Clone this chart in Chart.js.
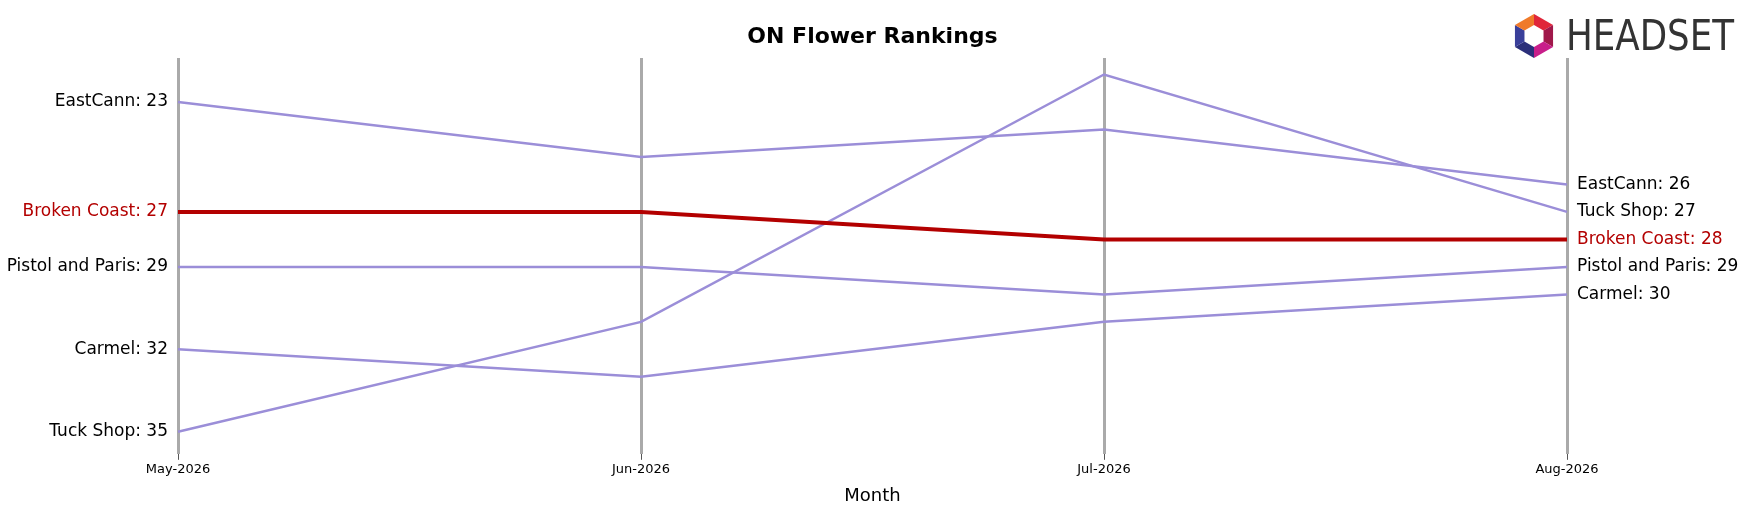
<!DOCTYPE html>
<html><head><meta charset="utf-8">
<script src="https://cdn.jsdelivr.net/npm/chart.js@4"></script>
<style>html,body{margin:0;padding:0;background:#fff}#wrap{width:1748px;height:507px}</style>
</head><body><div id="wrap"><canvas id="c"></canvas></div>
<script>
const months = ["May-2026","Jun-2026","Jul-2026","Aug-2026"];
const brands = ["EastCann","Broken Coast","Pistol and Paris","Carmel","Tuck Shop"];
const eastCann = [23,25,24,26];
const brokenCoast = [27,27,28,28];
const pistolParis = [29,29,30,29];
const carmel = [32,33,31,30];
const tuckShop = [35,31,22,27];
const seriesValues = [eastCann,brokenCoast,pistolParis,carmel,tuckShop];
const highlight = "Broken Coast";
const PURPLE = "#9b8ed8", RED = "#b30000";

const labelsPlugin = {
  id:'sideLabels',
  afterDatasetsDraw(chart){
    const ctx = chart.ctx, x = chart.scales.x, y = chart.scales.y;
    ctx.save();
    ctx.font = '17px "DejaVu Sans"';
    ctx.textBaseline = 'middle';
    chart.data.datasets.forEach(ds=>{
      const col = ds.label===highlight?RED:'#000';
      ctx.fillStyle = col;
      ctx.textAlign='right';
      ctx.fillText(ds.label+': '+ds.data[0], x.getPixelForValue(0)-10, y.getPixelForValue(ds.data[0]));
      ctx.textAlign='left';
      const n=ds.data.length-1;
      ctx.fillText(ds.label+': '+ds.data[n], x.getPixelForValue(n)+10, y.getPixelForValue(ds.data[n]));
    });
    ctx.fillStyle='#000'; ctx.textAlign='center';
    ctx.font='bold 22px "DejaVu Sans"';
    ctx.fillText('ON Flower Rankings', (chart.chartArea.left+chart.chartArea.right)/2, 37);
    // logo
    ctx.font='42px "DejaVu Sans Condensed", "Liberation Sans Narrow", sans-serif';
    const w = ctx.measureText('HEADSET').width;
    ctx.fillStyle='#333'; ctx.textAlign='left';
    ctx.translate(1566, 39); ctx.scale(168/w, 1);
    ctx.fillText('HEADSET', 0, 0);
    ctx.setTransform(1,0,0,1,0,0);
    const dpr = chart.currentDevicePixelRatio||1; ctx.scale(dpr,dpr);
    const cx=1534, cy=36;
    const cols=['#e0263a','#a0184a','#c81e8a','#2b2f7a','#3a3f9a','#f07a2a'];
    for(let i=0;i<6;i++){
      const a0=(-90+i*60)*Math.PI/180, a1=(-90+(i+1)*60)*Math.PI/180;
      ctx.beginPath();
      ctx.moveTo(cx+22*Math.cos(a0),cy+22*Math.sin(a0));
      ctx.lineTo(cx+22*Math.cos(a1),cy+22*Math.sin(a1));
      ctx.lineTo(cx+11*Math.cos(a1),cy+11*Math.sin(a1));
      ctx.lineTo(cx+11*Math.cos(a0),cy+11*Math.sin(a0));
      ctx.closePath(); ctx.fillStyle=cols[i]; ctx.fill();
    }
    ctx.restore();
  }
};

new Chart(document.getElementById('c'),{
  type:'line',
  data:{labels:months,datasets:brands.map((b,i)=>({
    label:b,data:seriesValues[i],
    borderColor:b===highlight?RED:PURPLE,
    borderWidth:b===highlight?4:2.5,
    pointRadius:0,tension:0,
    order:b===highlight?0:1
  }))},
  options:{
    responsive:true,maintainAspectRatio:false,animation:false,
    layout:{padding:{left:178,right:181,top:58,bottom:0}},
    plugins:{legend:{display:false},title:{display:false},tooltip:{enabled:false}},
    scales:{
      x:{offset:false,
        grid:{color:'#aaaaaa',lineWidth:3,drawTicks:true,tickLength:6,tickColor:'#555',tickWidth:1},
        border:{display:false},
        ticks:{color:'#000',font:{size:13,family:'DejaVu Sans'},maxRotation:0,padding:2},
        title:{display:true,text:'Month',color:'#000',font:{size:18,family:'DejaVu Sans'},padding:{top:6,bottom:0}}
      },
      y:{reverse:true,min:21.4,max:35.8,display:false}
    }
  },
  plugins:[labelsPlugin]
});
</script></body></html>
